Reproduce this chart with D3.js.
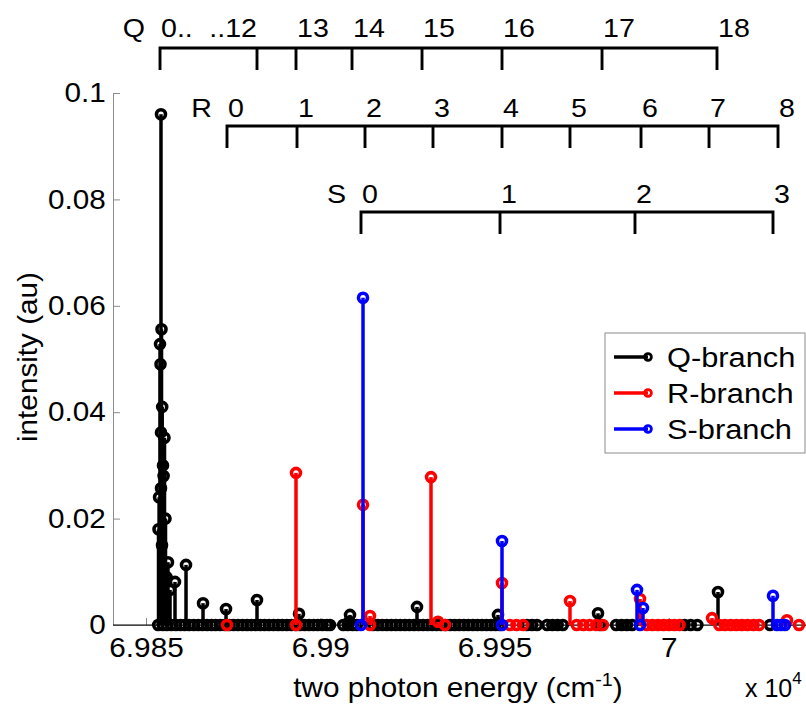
<!DOCTYPE html>
<html><head><meta charset="utf-8">
<script src="https://cdn.jsdelivr.net/npm/d3@7"></script>
<style>body{margin:0;background:#fff} svg{display:block;font-family:"Liberation Sans",Arial,sans-serif}</style>
</head><body><svg id="c" width="806" height="708"></svg>
<script>
// ---------- data ----------
const xTickValues = [69850, 69900, 69950, 70000];
const xTickLabels = ["6.985", "6.99", "6.995", "7"];
const yTickValues = [0, 0.02, 0.04, 0.06, 0.08, 0.1];
const yTickLabels = ["0", "0.02", "0.04", "0.06", "0.08", "0.1"];

// Q-branch lines (energy cm^-1, intensity au)
const qEnergy = [69854.30, 69854.45, 69854.02, 69854.16, 69854.30, 69855.31, 69854.30, 69853.59, 69854.88, 69855.60, 69854.59,
  69853.75, 69854.65, 69855.05, 69855.90,
  69856.31, 69856.89, 69858.32, 69861.48, 69866.36, 69872.96, 69881.85, 69893.90, 69908.54, 69908.30, 69927.76, 69951.00, 69979.70, 70014.13,
  69853.5, 69854.8, 69856.0, 69857.3, 69858.6, 69859.9, 69861.1, 69862.4, 69863.7, 69865.0, 69866.2, 69867.5, 69868.8, 69870.0,
  69871.3, 69872.6, 69873.9, 69875.1, 69876.4, 69877.7, 69879.0, 69880.2, 69881.5, 69882.8, 69884.0, 69885.3, 69886.6, 69887.9,
  69889.1, 69890.4, 69891.7, 69893.0, 69894.2, 69895.5, 69896.8, 69898.1, 69899.3, 69900.6, 69901.9, 69902.8,
  69906.6, 69907.9, 69909.3, 69910.5,
  69915.2, 69916.5, 69917.8, 69919.1, 69920.4, 69921.7, 69923.0, 69924.3, 69925.6, 69926.9, 69928.2, 69929.5, 69930.8, 69932.1,
  69933.4, 69934.7, 69936.0, 69937.3, 69938.6, 69939.9, 69941.2, 69942.5, 69943.8, 69945.1, 69946.4, 69947.7, 69949.0, 69950.3, 69951.5,
  69959.3, 69960.8, 69962.2, 69965.1, 69966.6, 69968.1, 69969.6, 69980.27, 69984.9, 69986.5, 69988.0, 69989.5,
  70004.5, 70006.3, 70008.2, 70029.05];
const qIntensity = [0.0960, 0.0556, 0.0528, 0.0490, 0.0362, 0.0352, 0.0257, 0.0180, 0.0300, 0.0200, 0.0150,
  0.0240, 0.0410, 0.0280, 0.0090,
  0.0118, 0.0066, 0.0081, 0.0113, 0.0041, 0.0030, 0.0047, 0.0021, 0.0019, 0.0006, 0.0034, 0.0019, 0.0022, 0.0062,
  0, 0, 0, 0, 0, 0, 0, 0, 0, 0, 0, 0, 0, 0,
  0, 0, 0, 0, 0, 0, 0, 0, 0, 0, 0, 0, 0, 0,
  0, 0, 0, 0, 0, 0, 0, 0, 0, 0, 0, 0,
  0, 0, 0, 0,
  0, 0, 0, 0, 0, 0, 0, 0, 0, 0, 0, 0, 0, 0,
  0, 0, 0, 0, 0, 0, 0, 0, 0, 0, 0, 0, 0, 0, 0,
  0, 0, 0, 0, 0, 0, 0, 0, 0, 0, 0, 0,
  0, 0, 0, 0];

// R-branch lines
const rEnergy = [69893.04, 69912.27, 69914.28, 69931.78, 69933.79, 69952.15, 69971.66, 69991.75, 70012.41, 70033.93,
  69873.24, 69893.04, 69914.28, 69935.80, 69954.4, 69956.3, 69958.2, 69973.6, 69975.5, 69977.3, 69979.2, 69981.1,
  69993.7, 69995.3, 69996.9, 69998.5, 70000.1, 70001.6, 70003.1,
  70014.5, 70016.1, 70017.8, 70019.4, 70021.0, 70022.6, 70024.3, 70025.9, 70037.37];
const rIntensity = [0.0286, 0.0226, 0.0017, 0.0278, 0.0006, 0.0079, 0.0045, 0.0049, 0.0013, 0.0009,
  0, 0, 0, 0, 0, 0, 0, 0, 0, 0, 0, 0,
  0, 0, 0, 0, 0, 0, 0,
  0, 0, 0, 0, 0, 0, 0, 0, 0];

// S-branch lines
const sEnergy = [69912.27, 69952.15, 69990.89, 69992.61, 70029.91,
  69911.69, 69952.15, 69991.75, 70031.06, 70032.21, 70033.35];
const sIntensity = [0.0615, 0.0158, 0.0066, 0.0032, 0.0055,
  0, 0, 0, 0, 0, 0];

// assignment combs (line positions, labels)
const qCombEnergy = [69854.02, 69881.85, 69893.04, 69909.11, 69929.20, 69952.15, 69980.85, 70013.84];
const qCombLabels = ["0..", "..12", "13", "14", "15", "16", "17", "18"];
const rCombEnergy = [69873.24, 69893.33, 69912.84, 69932.35, 69952.15, 69971.66, 69992.04, 70011.55, 70031.35];
const rCombLabels = ["0", "1", "2", "3", "4", "5", "6", "7", "8"];
const sCombEnergy = [69911.69, 69951.58, 69990.31, 70029.91];
const sCombLabels = ["0", "1", "2", "3"];

const seriesNames = ["Q-branch", "R-branch", "S-branch"];
const seriesColors = ["#000000", "#ff0000", "#0000ff"];

// ---------- drawing ----------
const svg = d3.select('#c');
const SX = 1.1;
const x = d3.scaleLinear().domain([69840.53, 70039.38]).range([113, 806]);
const y = d3.scaleLinear().domain([0, 0.1]).range([625, 93]);

function stext(parent, px, py, str, size, anchor, sx = SX) {
  return parent.append('text')
    .attr('transform', `translate(${px},${py}) scale(${sx},1)`)
    .attr('font-size', size).attr('text-anchor', anchor).attr('fill', '#000').text(str);
}

// axes
const gy = svg.append('g').attr('transform', 'translate(113,0)')
  .call(d3.axisLeft(y).tickValues(yTickValues).tickFormat((d, i) => yTickLabels[i]).tickSizeInner(-7).tickSizeOuter(0).tickPadding(6.5));
gy.select('.domain').attr('stroke', '#8c8c8c');
gy.selectAll('.tick line').attr('stroke', '#8c8c8c');
gy.selectAll('.tick text').attr('font-size', 27).attr('font-family', '"Liberation Sans",Arial,sans-serif')
  .attr('fill', '#000').attr('transform', `scale(${SX},1)`);

const gx = svg.append('g').attr('transform', 'translate(0,625)')
  .call(d3.axisBottom(x).tickValues(xTickValues).tickFormat((d, i) => xTickLabels[i]).tickSizeInner(-7).tickSizeOuter(0).tickPadding(13));
gx.select('.domain').attr('stroke', '#8c8c8c');
gx.selectAll('.tick line').attr('stroke', '#8c8c8c');
gx.selectAll('.tick text').attr('font-size', 27).attr('font-family', '"Liberation Sans",Arial,sans-serif')
  .attr('fill', '#000').attr('transform', `scale(${SX},1)`);

// stem baseline
svg.append('line').attr('x1', x.range()[0]).attr('x2', x.range()[1]).attr('y1', y(0)).attr('y2', y(0))
  .attr('stroke', '#000').attr('stroke-width', 1.2);

// stems
const series = [[qEnergy, qIntensity], [rEnergy, rIntensity], [sEnergy, sIntensity]];
series.forEach(([E, I], k) => {
  const pts = E.map((e, i) => ({ e, v: I[i] }));
  const g = svg.append('g');
  g.selectAll('line').data(pts.filter(p => p.v > 0)).join('line')
    .attr('x1', p => x(p.e)).attr('x2', p => x(p.e))
    .attr('y1', y(0)).attr('y2', p => y(p.v))
    .attr('stroke', seriesColors[k]).attr('stroke-width', 3.5);
  g.selectAll('circle').data(pts).join('circle')
    .attr('cx', p => x(p.e)).attr('cy', p => y(p.v)).attr('r', 4.5)
    .attr('fill', 'none').attr('stroke', seriesColors[k]).attr('stroke-width', 3.6);
});

// assignment combs
function comb(energies, labels, letter, yLine, yLabel) {
  const g = svg.append('g');
  const xs = energies.map(e => x(e));
  const drop = 22;
  g.append('path')
    .attr('d', `M${xs[0]},${yLine + drop}V${yLine}H${xs[xs.length - 1]}V${yLine + drop}`)
    .attr('fill', 'none').attr('stroke', '#000').attr('stroke-width', 2.9);
  xs.slice(1, -1).forEach(px => {
    g.append('line').attr('x1', px).attr('x2', px).attr('y1', yLine).attr('y2', yLine + drop)
      .attr('stroke', '#000').attr('stroke-width', 2.9);
  });
  stext(g, xs[0] - 15, yLabel, letter, 26, 'end');
  labels.forEach((t, i) => {
    if (t.startsWith('..')) stext(g, xs[i], yLabel, t, 26, 'end');
    else stext(g, xs[i] + 1, yLabel, t, 26, 'start');
  });
}
comb(qCombEnergy, qCombLabels, 'Q', 48, 37);
comb(rCombEnergy, rCombLabels, 'R', 126, 117);
comb(sCombEnergy, sCombLabels, 'S', 212, 203);

// axis labels
const xl = svg.append('text').attr('transform', `translate(458,697) scale(${SX},1)`)
  .attr('font-size', 27).attr('text-anchor', 'middle');
xl.append('tspan').text('two photon energy (cm');
xl.append('tspan').attr('font-size', 18).attr('dy', -11).text('-1');
xl.append('tspan').attr('dy', 11).text(')');

const ex = svg.append('text').attr('transform', `translate(745,697)`).attr('font-size', 25);
ex.append('tspan').text('x 10');
ex.append('tspan').attr('font-size', 17).attr('dy', -13).text('4');

svg.append('text').attr('transform', `translate(37,357) rotate(-90) scale(${SX},1)`)
  .attr('font-size', 27).attr('text-anchor', 'middle').text('intensity (au)');

// legend
const lg = svg.append('g');
lg.append('rect').attr('x', 605).attr('y', 333).attr('width', 200).attr('height', 120)
  .attr('fill', '#fff').attr('stroke', '#8c8c8c').attr('stroke-width', 1);
const rowsY = [357, 393, 429];
seriesNames.forEach((n, i) => {
  lg.append('line').attr('x1', 614).attr('x2', 648).attr('y1', rowsY[i]).attr('y2', rowsY[i])
    .attr('stroke', seriesColors[i]).attr('stroke-width', 3.4);
  lg.append('circle').attr('cx', 648).attr('cy', rowsY[i]).attr('r', 3.4)
    .attr('fill', 'none').attr('stroke', seriesColors[i]).attr('stroke-width', 2.8);
  stext(lg, 667, rowsY[i] + 10, n, 28, 'start');
});
</script></body></html>
